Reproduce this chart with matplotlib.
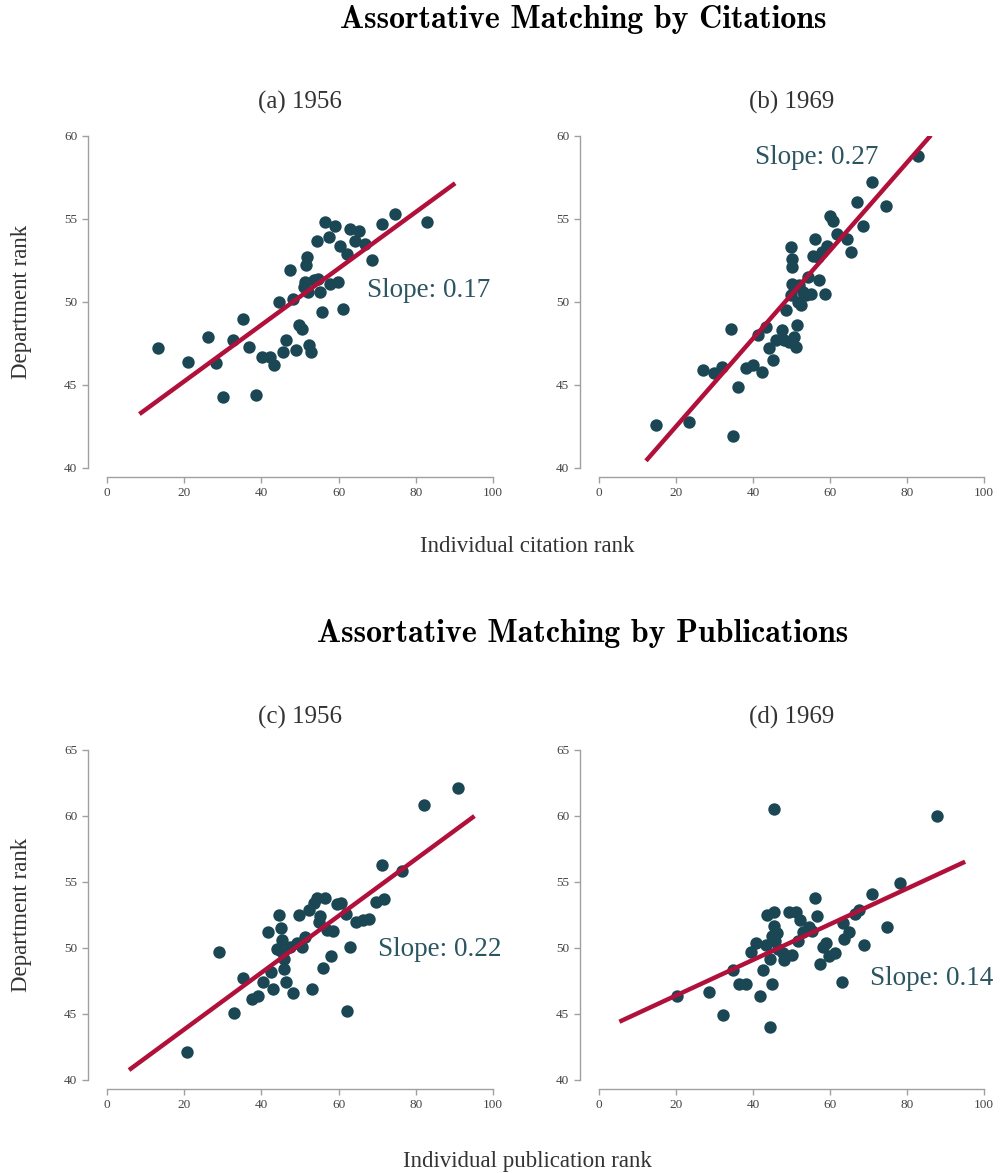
import matplotlib
matplotlib.use("Agg")
import matplotlib.pyplot as plt

# --- data (rank values) ---
cit56_x = [13.3, 21.1, 26.1, 28.2, 30.1, 32.6, 35.3, 36.8, 38.7, 40.2, 42.2, 43.3,
           45.5, 46.5, 44.6, 48.1, 47.4, 49.0, 49.7, 50.6, 52.4, 52.8, 51.1, 51.2,
           51.5, 51.9, 52.2, 53.5, 54.7, 55.2, 55.8, 54.3, 56.5, 59.1, 57.4, 57.8,
           59.9, 61.2, 60.4, 62.1, 63.0, 65.4, 64.2, 66.8, 68.7, 71.2, 74.6, 82.8]
cit56_y = [47.2, 46.4, 47.9, 46.3, 44.3, 47.7, 49.0, 47.3, 44.4, 46.7, 46.7, 46.2,
           47.0, 47.7, 50.0, 50.2, 51.9, 47.1, 48.6, 48.4, 47.4, 47.0, 50.9, 51.2,
           52.2, 52.7, 50.6, 51.3, 51.4, 50.6, 49.4, 53.7, 54.8, 54.6, 53.9, 51.1,
           51.2, 49.6, 53.4, 52.9, 54.4, 54.3, 53.7, 53.5, 52.5, 54.7, 55.3, 54.8]

cit69_x = [14.7, 23.5, 34.9, 36.2, 27.1, 29.9, 32.0, 34.4, 38.1, 40.0, 42.3, 41.2,
           43.3, 44.2, 45.2, 46.1, 47.5, 48.1, 49.4, 50.6, 51.1, 51.4, 48.6, 49.9,
           50.1, 50.2, 50.1, 50.6, 49.9, 51.8, 52.4, 52.0, 53.1, 54.4, 53.8, 55.0,
           57.2, 58.7, 55.5, 56.1, 57.0, 57.8, 59.3, 61.9, 64.3, 65.5, 60.0, 60.9,
           68.7, 66.9, 74.5, 70.8, 82.9]
cit69_y = [42.6, 42.8, 41.9, 44.9, 45.9, 45.7, 46.1, 48.4, 46.0, 46.2, 45.8, 48.0,
           48.5, 47.2, 46.5, 47.7, 48.3, 47.7, 47.6, 47.9, 47.3, 48.6, 49.5, 53.3,
           52.6, 52.1, 51.1, 50.9, 50.4, 50.0, 49.8, 51.0, 50.6, 51.5, 50.4, 50.5,
           51.3, 50.5, 52.8, 53.8, 52.7, 53.0, 53.4, 54.1, 53.8, 53.0, 55.2, 54.9,
           54.6, 56.0, 55.8, 57.2, 58.8]

pub56_x = [20.8, 29.0, 32.8, 35.3, 37.5, 39.0, 40.4, 41.6, 42.5, 43.1, 44.6, 44.1,
           45.2, 45.4, 45.9, 45.9, 46.5, 48.1, 45.0, 47.4, 49.1, 50.6, 51.3, 49.7,
           52.4, 53.5, 54.3, 56.6, 55.2, 55.0, 56.9, 58.6, 59.7, 60.5, 61.8, 58.0,
           55.9, 53.2, 62.1, 63.0, 64.5, 66.2, 68.0, 69.7, 71.8, 71.2, 76.3, 82.2,
           91.0]
pub56_y = [42.1, 49.7, 45.1, 47.75, 46.1, 46.4, 47.4, 51.2, 48.2, 46.9, 52.5, 49.9,
           51.5, 50.6, 49.2, 48.4, 47.4, 46.6, 49.8, 50.1, 50.4, 50.1, 50.8, 52.5,
           52.9, 53.4, 53.8, 53.8, 52.4, 52.0, 51.4, 51.3, 53.3, 53.4, 52.6, 49.4,
           48.5, 46.9, 45.2, 50.05, 52.0, 52.1, 52.2, 53.5, 53.7, 56.3, 55.8, 60.8,
           62.1]

pub69_x = [45.5, 87.9, 20.3, 28.6, 32.3, 34.7, 36.4, 38.2, 39.5, 40.7, 41.7, 42.7,
           44.9, 44.4, 43.6, 45.5, 45.5, 46.2, 43.4, 44.4, 45.7, 46.6, 48.1, 50.0,
           47.7, 49.4, 51.1, 52.2, 51.6, 53.1, 54.6, 55.4, 56.1, 56.6, 57.4, 58.3,
           59.0, 59.7, 61.3, 63.1, 63.3, 63.6, 64.9, 66.5, 67.5, 68.8, 71.0, 74.8,
           78.2, 45.0]
pub69_y = [60.5, 60.0, 46.4, 46.7, 44.9, 48.3, 47.3, 47.3, 49.7, 50.4, 46.4, 48.3,
           47.3, 44.0, 52.5, 52.75, 51.7, 51.1, 50.2, 49.2, 50.5, 49.9, 49.1, 49.5,
           49.6, 52.75, 52.7, 52.1, 50.5, 51.2, 51.6, 51.3, 53.8, 52.4, 48.8, 50.05,
           50.4, 49.4, 49.6, 47.4, 51.9, 50.7, 51.2, 52.6, 52.9, 50.2, 54.1, 51.6,
           54.95, 50.9]

# fitted lines: intercept, slope, x range of the drawn fit
fit_intercept = [41.82, 37.20, 39.53, 43.70]
fit_slope = [0.17, 0.265, 0.215, 0.135]
fit_range = [(8.4, 90.2), (12.2, 86.2), (5.7, 95.2), (5.3, 95.1)]

slope_labels = ["Slope: 0.17", "Slope: 0.27", "Slope: 0.22", "Slope: 0.14"]
slope_pos = [(67.4, 50.7), (40.5, 58.7), (70.2, 49.85), (70.4, 47.7)]
panel_titles = ["(a) 1956", "(b) 1969", "(c) 1956", "(d) 1969"]
y_limits = [(40, 60), (40, 60), (40, 65), (40, 65)]
y_ticks = [[40, 45, 50, 55, 60], [40, 45, 50, 55, 60],
           [40, 45, 50, 55, 60, 65], [40, 45, 50, 55, 60, 65]]
x_ticks = [0, 20, 40, 60, 80, 100]

xs = [cit56_x, cit69_x, pub56_x, pub69_x]
ys = [cit56_y, cit69_y, pub56_y, pub69_y]

DOT = "#1b4755"
RED = "#b0103a"
TXT = "#2c5562"
GREY = "#a0a0a0"

plt.rcParams["font.family"] = ["Liberation Serif", "DejaVu Serif"]

fig = plt.figure(figsize=(10.01, 11.73), dpi=100)

W, H = 1001, 1173
# axes boxes in pixels: left, top, right, bottom
boxes = [(107, 136, 493, 468), (599, 136, 984, 468),
         (107, 750, 493, 1080), (599, 750, 984, 1080)]

for i, (l, t, r, b) in enumerate(boxes):
    ax = fig.add_axes([l / W, 1 - b / H, (r - l) / W, (b - t) / H])
    ax.scatter(xs[i], ys[i], s=80, color=DOT, zorder=3, linewidths=0)
    x0, x1 = fit_range[i]
    ax.plot([x0, x1], [fit_intercept[i] + fit_slope[i] * x0,
                       fit_intercept[i] + fit_slope[i] * x1],
            color=RED, lw=3.2, zorder=4, solid_capstyle="butt")
    ax.text(slope_pos[i][0], slope_pos[i][1], slope_labels[i], fontsize=19.5,
            color=TXT, va="center", ha="left", clip_on=False)
    ax.set_xlim(0, 100)
    ax.set_ylim(*y_limits[i])
    ax.set_xticks(x_ticks)
    ax.set_yticks(y_ticks[i])
    for s in ["top", "right"]:
        ax.spines[s].set_visible(False)
    ax.spines["left"].set_position(("outward", 14))
    ax.spines["bottom"].set_position(("outward", 6.5))
    for s in ["left", "bottom"]:
        ax.spines[s].set_color(GREY)
        ax.spines[s].set_linewidth(1.0)
    ax.tick_params(colors=GREY, labelcolor="#444444", labelsize=9.5,
                   length=4, width=1.0)
    ax.patch.set_visible(False)
    ax.text(0.5, 1.1, panel_titles[i], transform=ax.transAxes,
            ha="center", va="center", fontsize=18, color="#333333")

fig.text(583 / W, 1 - 20 / H, "Assortative Matching by Citations",
         family="cmb10", fontsize=23, ha="center", va="center")
fig.text(583 / W, 1 - 633 / H, "Assortative Matching by Publications",
         family="cmb10", fontsize=23, ha="center", va="center")

fig.text(22 / W, 1 - 302 / H, "Department rank", rotation=90,
         ha="center", va="center", fontsize=16.5, color="#333333")
fig.text(22 / W, 1 - 915 / H, "Department rank", rotation=90,
         ha="center", va="center", fontsize=16.5, color="#333333")
fig.text(527 / W, 1 - 546 / H, "Individual citation rank",
         ha="center", va="center", fontsize=16.5, color="#333333")
fig.text(527 / W, 1 - 1161 / H, "Individual publication rank",
         ha="center", va="center", fontsize=16.5, color="#333333")

fig.savefig("out.png", dpi=100)
